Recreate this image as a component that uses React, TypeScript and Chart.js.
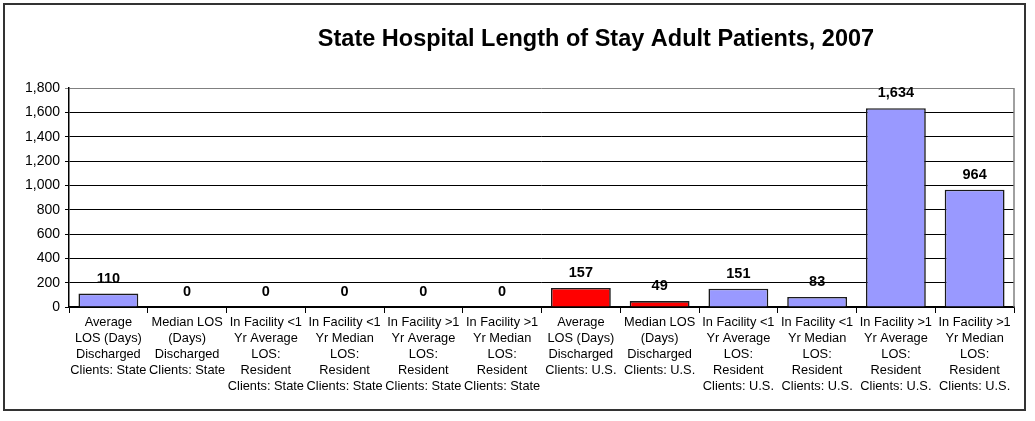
import React, { useEffect, useRef } from "react";
import { Chart, registerables } from "chart.js";

Chart.register(...registerables);

const chartTitle = "State Hospital Length of Stay Adult Patients, 2007";

const categories: string[][] = [
  ["Average", "LOS (Days)", "Discharged", "Clients: State"],
  ["Median LOS", "(Days)", "Discharged", "Clients: State"],
  ["In Facility <1", "Yr Average", "LOS:", "Resident", "Clients: State"],
  ["In Facility <1", "Yr Median", "LOS:", "Resident", "Clients: State"],
  ["In Facility >1", "Yr Average", "LOS:", "Resident", "Clients: State"],
  ["In Facility >1", "Yr Median", "LOS:", "Resident", "Clients: State"],
  ["Average", "LOS (Days)", "Discharged", "Clients: U.S."],
  ["Median LOS", "(Days)", "Discharged", "Clients: U.S."],
  ["In Facility <1", "Yr Average", "LOS:", "Resident", "Clients: U.S."],
  ["In Facility <1", "Yr Median", "LOS:", "Resident", "Clients: U.S."],
  ["In Facility >1", "Yr Average", "LOS:", "Resident", "Clients: U.S."],
  ["In Facility >1", "Yr Median", "LOS:", "Resident", "Clients: U.S."],
];

const losValues: number[] = [110, 0, 0, 0, 0, 0, 157, 49, 151, 83, 1634, 964];

// categories drawn in the highlight colour
const highlightedIndices: number[] = [6, 7];

const yMin = 0;
const yMax = 1800;
const yStep = 200;

const FONT = "'Liberation Sans', Arial, Helvetica, sans-serif";

export default function App() {
  const canvasRef = useRef<HTMLCanvasElement | null>(null);

  useEffect(() => {
    if (!canvasRef.current) return;

    const framePlugin = {
      id: "frameAndTitle",
      beforeDraw(chart: any) {
        const ctx = chart.ctx;
        ctx.save();
        ctx.fillStyle = "#ffffff";
        ctx.fillRect(0, 0, chart.width, chart.height);
        ctx.strokeStyle = "#333333";
        ctx.lineWidth = 2;
        ctx.strokeRect(4, 4, 1021, 406);
        ctx.fillStyle = "#000000";
        ctx.font = `bold 23.5px ${FONT}`;
        ctx.textAlign = "center";
        ctx.textBaseline = "middle";
        ctx.fillText(chartTitle, 596, 40);
        ctx.restore();
      },
      beforeDatasetsDraw(chart: any) {
        const { ctx, chartArea } = chart;
        ctx.save();
        ctx.strokeStyle = "#808080";
        ctx.lineWidth = 1.5;
        ctx.beginPath();
        ctx.moveTo(chartArea.right, chartArea.top);
        ctx.lineTo(chartArea.right, chartArea.bottom);
        ctx.stroke();
        ctx.restore();
      },
      afterDatasetsDraw(chart: any) {
        const ctx = chart.ctx;
        const meta = chart.getDatasetMeta(0);
        const data = chart.data.datasets[0].data as number[];
        ctx.save();
        ctx.fillStyle = "#000000";
        ctx.font = `bold 14.5px ${FONT}`;
        ctx.textAlign = "center";
        ctx.textBaseline = "middle";
        meta.data.forEach((bar: any, i: number) => {
          ctx.fillText(data[i].toLocaleString("en-US"), bar.x, bar.y - 15);
        });
        ctx.restore();
      },
    };

    const chart = new Chart(canvasRef.current, {
      type: "bar",
      data: {
        labels: categories,
        datasets: [
          {
            data: losValues,
            backgroundColor: (c: any) =>
              highlightedIndices.includes(c.dataIndex) ? "#FF0000" : "#9999FF",
            borderColor: "#1a1a1a",
            borderWidth: 1.6,
            borderSkipped: "bottom",
            categoryPercentage: 1,
            barPercentage: 0.76,
          },
        ],
      },
      options: {
        animation: false,
        responsive: true,
        maintainAspectRatio: false,
        devicePixelRatio: 1,
        layout: { padding: { left: 0, right: 21, top: 88, bottom: 0 } },
        plugins: {
          legend: { display: false },
          title: { display: false },
          tooltip: { enabled: false },
        },
        scales: {
          x: {
            grid: {
              display: true,
              offset: true,
              drawOnChartArea: false,
              drawTicks: true,
              tickLength: 6,
              color: "#000000",
            },
            border: { display: true, color: "#000000", width: 1.5 },
            ticks: {
              color: "#000000",
              font: { family: FONT, size: 12.8, lineHeight: 1.24 },
              padding: 2,
              maxRotation: 0,
              autoSkip: false,
            },
            afterFit: (s: any) => {
              s.height = 114;
            },
          },
          y: {
            min: yMin,
            max: yMax,
            ticks: {
              stepSize: yStep,
              color: "#000000",
              font: { family: FONT, size: 14 },
              padding: 5,
            },
            grid: {
              color: (c: any) => (c.tick && c.tick.value === yMax ? "#808080" : "#000000"),
              lineWidth: 1,
              tickLength: 4,
              drawTicks: true,
            },
            border: { display: true, color: "#000000", width: 1.5 },
            afterFit: (s: any) => {
              s.width = 69;
            },
          },
        },
      },
      plugins: [framePlugin],
    });

    return () => chart.destroy();
  }, []);

  return (
    <div style={{ position: "absolute", left: 0, top: 0, width: 1035, height: 421 }}>
      <canvas ref={canvasRef} />
    </div>
  );
}
